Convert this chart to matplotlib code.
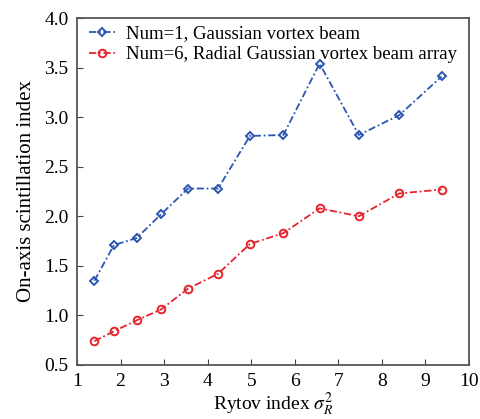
import matplotlib
matplotlib.use("Agg")
import matplotlib.pyplot as plt

rytov = [1.40, 1.85, 2.37, 2.93, 3.55, 4.24, 4.97, 5.74, 6.57, 7.47, 8.40, 9.37]
single_beam = [1.35, 1.71, 1.78, 2.02, 2.28, 2.28, 2.81, 2.82, 3.54, 2.82, 3.02, 3.41]
beam_array = [0.74, 0.84, 0.95, 1.06, 1.27, 1.42, 1.72, 1.83, 2.08, 2.00, 2.23, 2.27]
labels = ["Num=1, Gaussian vortex beam", "Num=6, Radial Gaussian vortex beam array"]

plt.rcParams["font.family"] = ["Liberation Serif", "DejaVu Serif"]
plt.rcParams["mathtext.fontset"] = "stix"

fig = plt.figure(figsize=(4.81, 4.19), dpi=100)
ax = fig.add_axes([0.160, 0.129, 0.815, 0.828])

dash = (4, 1.5, 1, 1.5)
ax.plot(rytov, single_beam, linestyle=(0, dash), color="#2b56b2", marker="D",
        markersize=4.3, markerfacecolor="none", markeredgewidth=1.4,
        linewidth=1.3, label=labels[0])
ax.plot(rytov, beam_array, linestyle=(0, dash), color="#e8232c", marker="o",
        markersize=5.5, markerfacecolor="none", markeredgewidth=1.4,
        linewidth=1.3, label=labels[1])

ax.set_xlim(1, 10)
ax.set_ylim(0.5, 4.0)
ax.set_xticks(range(1, 11))
ax.set_yticks([0.5, 1.0, 1.5, 2.0, 2.5, 3.0, 3.5, 4.0])
ax.set_yticklabels([f"{v:.1f}" for v in ax.get_yticks()])
ax.tick_params(direction="in", labelsize=14, length=4, color="#444444",
               pad=6)
for s in ax.spines.values():
    s.set_color("#555555")
    s.set_linewidth(1.3)

ax.set_xlabel(r"Rytov index $\sigma_R^2$", fontsize=14, labelpad=0)
ax.set_ylabel("On-axis scintillation index", fontsize=15, labelpad=6)

ax.legend(loc="upper left", bbox_to_anchor=(0.02, 0.99), frameon=False,
          fontsize=13.5, handlelength=1.4, handletextpad=0.6,
          borderaxespad=0, labelspacing=0.2, borderpad=0.2)

fig.savefig("out.png", dpi=100)
